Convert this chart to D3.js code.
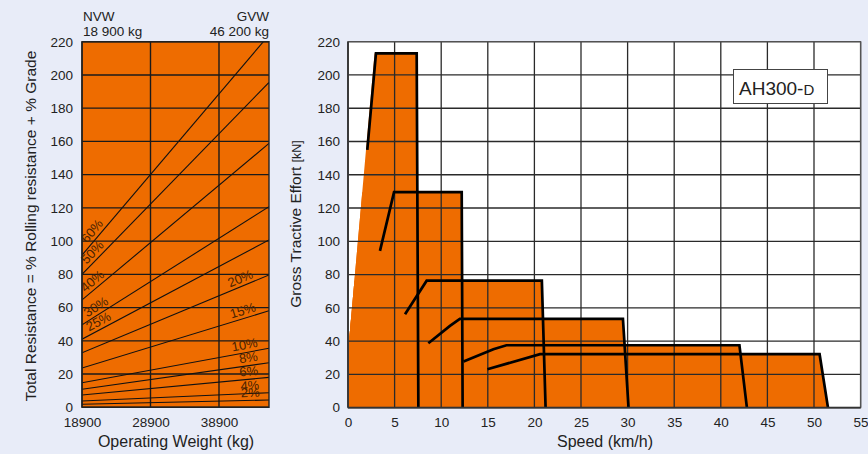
<!DOCTYPE html>
<html>
<head>
<meta charset="utf-8">
<script src="https://cdn.jsdelivr.net/npm/d3@7"></script>
<style>
  html, body { margin: 0; padding: 0; background: #e8ecf8; }
  svg { display: block; font-family: "Liberation Sans", Arial, sans-serif; }
</style>
</head>
<body>
<div id="chart"></div>
<script>
var W = 868, H = 454;
var ORANGE = "#ee6c00";

// left chart: grade lines (kN at NVW and at GVW)
var weightTicks = [18900, 28900, 38900];
var resistTicks = [0, 20, 40, 60, 80, 100, 120, 140, 160, 180, 200, 220];
var grades = ["60%", "50%", "40%", "30%", "25%", "20%", "15%", "10%", "8%", "6%", "4%", "2%"];
var gradeAtNVW = [91.6, 80.0, 64.6, 49.6, 41.0, 32.8, 23.6, 14.8, 10.9, 7.4, 3.8, 1.8];
var gradeAtGVW = [224, 195.5, 158.8, 120.7, 100.7, 79.6, 58.1, 35.5, 26.8, 18.0, 8.8, 4.4];
var gradeLabelAt = [21250, 21250, 21150, 21550, 21850, 42450, 42700, 42850, 43350, 43350, 43450, 43500];

// right chart: rimpull per gear
var speedTicks = [0, 5, 10, 15, 20, 25, 30, 35, 40, 45, 50, 55];
var effortTicks = [0, 20, 40, 60, 80, 100, 120, 140, 160, 180, 200, 220];
var gearTop = [213, 129.5, 76.3, 53.3, 37.5, 32.1];
var gearTopEnd = [7.37, 12.2, 20.8, 29.5, 42.0, 50.6];
var gearZero = [7.55, 12.3, 21.2, 30.1, 42.8, 51.5];
var gearRamp = [
  [[2.07, 155], [3.0, 213]],
  [[3.43, 94.2], [4.94, 129.5]],
  [[6.12, 56.1], [8.44, 76.3]],
  [[8.62, 38.7], [10.94, 49.1], [12.0, 53.3]],
  [[12.4, 27.7], [15.6, 35.1], [17.0, 37.5]],
  [[14.95, 23.1], [20.6, 32.1]]
];
var fillEdge = [[0, 33], [2.85, 213]];

var svg = d3.select("#chart").append("svg")
  .attr("width", W).attr("height", H);
svg.append("rect").attr("width", W).attr("height", H).attr("fill", "#e8ecf8");

var defs = svg.append("defs");

// ---------- left chart ----------
var xW = d3.scaleLinear().domain([18900, 46200]).range([82, 269]);
var yL = d3.scaleLinear().domain([0, 220]).range([407.3, 41.7]);

defs.append("clipPath").attr("id", "clipL").append("rect")
  .attr("x", xW.range()[0]).attr("y", yL.range()[1])
  .attr("width", xW.range()[1] - xW.range()[0])
  .attr("height", yL.range()[0] - yL.range()[1]);

var left = svg.append("g");
left.append("rect")
  .attr("x", xW.range()[0]).attr("y", yL.range()[1])
  .attr("width", xW.range()[1] - xW.range()[0])
  .attr("height", yL.range()[0] - yL.range()[1])
  .attr("fill", ORANGE);

// grid
left.selectAll(".hg").data(resistTicks).enter().append("line")
  .attr("x1", xW.range()[0]).attr("x2", xW.range()[1])
  .attr("y1", d => yL(d)).attr("y2", d => yL(d))
  .attr("stroke", "#1a1a1a").attr("stroke-width", 1.4);
left.selectAll(".vg").data(weightTicks).enter().append("line")
  .attr("x1", d => xW(d)).attr("x2", d => xW(d))
  .attr("y1", yL.range()[0]).attr("y2", yL.range()[1])
  .attr("stroke", "#1a1a1a").attr("stroke-width", 1.4);

// grade lines
left.append("g").attr("clip-path", "url(#clipL)")
  .selectAll("line").data(grades).enter().append("line")
  .attr("x1", xW(18900)).attr("y1", (d, i) => yL(gradeAtNVW[i]))
  .attr("x2", xW(46200)).attr("y2", (d, i) => yL(gradeAtGVW[i]))
  .attr("stroke", "#111").attr("stroke-width", 1.1);

// grade labels, rotated along each line
left.selectAll(".glab").data(grades).enter().append("text")
  .attr("transform", function(d, i) {
    var x0 = xW(18900), y0 = yL(gradeAtNVW[i]);
    var x1 = xW(46200), y1 = yL(gradeAtGVW[i]);
    var ang = Math.atan2(y1 - y0, x1 - x0);
    var lx = xW(gradeLabelAt[i]);
    var ly = y0 + (y1 - y0) * (lx - x0) / (x1 - x0);
    return "translate(" + lx + "," + ly + ") rotate(" + (ang * 180 / Math.PI) + ")";
  })
  .attr("y", -3.5)
  .attr("text-anchor", "middle")
  .attr("font-size", 13)
  .attr("fill", "#4a2200")
  .text(d => d);

left.append("rect")
  .attr("x", xW.range()[0]).attr("y", yL.range()[1])
  .attr("width", xW.range()[1] - xW.range()[0])
  .attr("height", yL.range()[0] - yL.range()[1])
  .attr("fill", "none").attr("stroke", "#222").attr("stroke-width", 1.4);

// axes
var axL = left.append("g").attr("transform", "translate(" + xW.range()[0] + ",0)")
  .call(d3.axisLeft(yL).tickValues(resistTicks).tickSize(0).tickPadding(9));
var axB = left.append("g").attr("transform", "translate(0," + yL.range()[0] + ")")
  .call(d3.axisBottom(xW).tickValues(weightTicks).tickSize(0).tickPadding(10).tickFormat(d3.format("d")));
[axL, axB].forEach(function(a) {
  a.select(".domain").remove();
  a.selectAll("text").attr("font-size", 13.5).attr("fill", "#222")
    .attr("font-family", "Liberation Sans, Arial, sans-serif");
});

left.append("text").attr("x", 83).attr("y", 21).attr("font-size", 13.5).attr("fill", "#222").text("NVW");
left.append("text").attr("x", 83).attr("y", 36).attr("font-size", 13.5).attr("fill", "#222").text("18 900 kg");
left.append("text").attr("x", 269).attr("y", 21).attr("font-size", 13.5).attr("fill", "#222")
  .attr("text-anchor", "end").text("GVW");
left.append("text").attr("x", 269).attr("y", 36).attr("font-size", 13.5).attr("fill", "#222")
  .attr("text-anchor", "end").text("46 200 kg");

left.append("text")
  .attr("x", 176).attr("y", 447)
  .attr("text-anchor", "middle").attr("font-size", 16).attr("fill", "#222")
  .text("Operating Weight (kg)");
left.append("text")
  .attr("transform", "translate(36,226) rotate(-90)")
  .attr("text-anchor", "middle").attr("font-size", 15.5).attr("fill", "#222")
  .text("Total Resistance = % Rolling resistance + % Grade");

// ---------- right chart ----------
var xS = d3.scaleLinear().domain([0, 55]).range([348, 860.6]);
var yR = d3.scaleLinear().domain([0, 220]).range([407.6, 41.7]);

var right = svg.append("g");
right.append("rect")
  .attr("x", xS.range()[0]).attr("y", yR.range()[1])
  .attr("width", xS.range()[1] - xS.range()[0])
  .attr("height", yR.range()[0] - yR.range()[1])
  .attr("fill", "#fff");

// clip region right of the left fill boundary
defs.append("clipPath").attr("id", "clipR").append("path")
  .attr("d", d3.line()([
    [xS(0), yR(0)], [xS(fillEdge[0][0]), yR(fillEdge[0][1])],
    [xS(fillEdge[1][0]), yR(fillEdge[1][1])], [xS(fillEdge[1][0]), yR(220)],
    [xS(55), yR(220)], [xS(55), yR(0)]
  ]) + "Z");

var line = d3.line().x(d => xS(d[0])).y(d => yR(d[1]));

right.append("g").attr("clip-path", "url(#clipR)")
  .selectAll("path").data(gearTop).enter().append("path")
  .attr("d", (d, i) => line([[0, 0], [0, d], [gearTopEnd[i], d], [gearZero[i], 0]]) + "Z")
  .attr("fill", ORANGE);

// grid
right.selectAll(".hg").data(effortTicks).enter().append("line")
  .attr("x1", xS.range()[0]).attr("x2", xS.range()[1])
  .attr("y1", d => yR(d)).attr("y2", d => yR(d))
  .attr("stroke", "#2a2a2a").attr("stroke-width", 1.3);
right.selectAll(".vg").data(speedTicks).enter().append("line")
  .attr("x1", d => xS(d)).attr("x2", d => xS(d))
  .attr("y1", yR.range()[0]).attr("y2", yR.range()[1])
  .attr("stroke", "#2a2a2a").attr("stroke-width", 1.3);

// gear outlines
right.selectAll(".gear").data(gearTop).enter().append("path")
  .attr("d", (d, i) => line(gearRamp[i].concat([[gearTopEnd[i], d], [gearZero[i], 0]])))
  .attr("fill", "none").attr("stroke", "#000").attr("stroke-width", 2.7)
  .attr("stroke-linejoin", "miter");

right.append("rect")
  .attr("x", xS.range()[0]).attr("y", yR.range()[1])
  .attr("width", xS.range()[1] - xS.range()[0])
  .attr("height", yR.range()[0] - yR.range()[1])
  .attr("fill", "none").attr("stroke", "#555").attr("stroke-width", 1.3);
right.append("line")
  .attr("x1", xS(0)).attr("x2", xS(0)).attr("y1", yR(0)).attr("y2", yR(220))
  .attr("stroke", "#333").attr("stroke-width", 1.6);
right.append("line")
  .attr("x1", xS(0)).attr("x2", xS(55)).attr("y1", yR(0)).attr("y2", yR(0))
  .attr("stroke", "#333").attr("stroke-width", 1.6);

var axRL = right.append("g").attr("transform", "translate(" + xS.range()[0] + ",0)")
  .call(d3.axisLeft(yR).tickValues(effortTicks).tickSize(0).tickPadding(8));
var axRB = right.append("g").attr("transform", "translate(0," + yR.range()[0] + ")")
  .call(d3.axisBottom(xS).tickValues(speedTicks).tickSize(0).tickPadding(10));
[axRL, axRB].forEach(function(a) {
  a.select(".domain").remove();
  a.selectAll("text").attr("font-size", 13.5).attr("fill", "#222")
    .attr("font-family", "Liberation Sans, Arial, sans-serif");
});

right.append("text")
  .attr("x", 605).attr("y", 447)
  .attr("text-anchor", "middle").attr("font-size", 16).attr("fill", "#222")
  .text("Speed (km/h)");
var yt = right.append("text")
  .attr("transform", "translate(301,224) rotate(-90)")
  .attr("text-anchor", "middle").attr("font-size", 15.5).attr("fill", "#222");
yt.append("tspan").text("Gross Tractive Effort ");
yt.append("tspan").attr("font-size", 12.5).text("[kN]");

// model box
right.append("rect")
  .attr("x", 733.5).attr("y", 69.5).attr("width", 94).attr("height", 34)
  .attr("fill", "#fff").attr("stroke", "#444").attr("stroke-width", 1);
var mt = right.append("text").attr("x", 739).attr("y", 94.5)
  .attr("font-size", 19).attr("fill", "#222");
mt.append("tspan").text("AH300-");
mt.append("tspan").attr("font-size", 15).text("D");
</script>
</body>
</html>
